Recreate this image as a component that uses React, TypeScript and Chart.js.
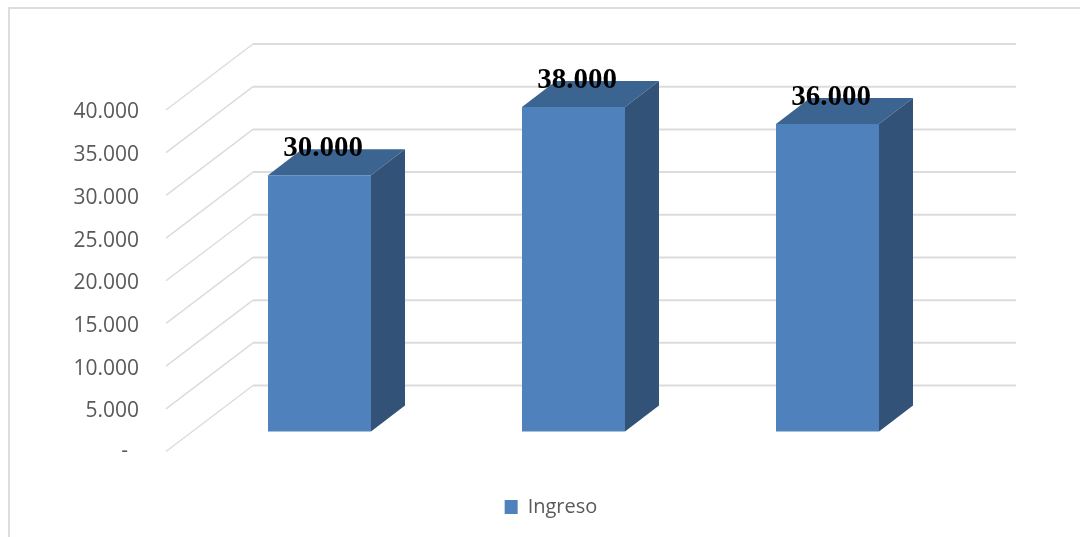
import React, { useEffect, useRef } from "react";
import { Chart, registerables } from "chart.js";

Chart.register(...registerables);

const categories = ["1", "2", "3"];
const seriesName = "Ingreso";
const ingreso = [30000, 38000, 36000];

const FRONT = "#4f81bd";
const TOP = "#3c6491";
const SIDE = "#325277";
const GRID = "#dcdcdc";
const TEXT = "#595959";

const formatNumber = (v: number) => String(v).replace(/\B(?=(\d{3})+$)/g, ".");

// Depth of the floor and walls, and of the bars, in canvas pixels.
const WALL_DX = 87;
const WALL_DY = -66;
const BAR_DX = 34;
const BAR_DY = -26;

const box3d = {
  id: "box3d",
  beforeDatasetsDraw(chart: any) {
    const { ctx, scales } = chart;
    ctx.save();
    // Outer frame: only the top and left edges are visible.
    ctx.strokeStyle = "#dddddd";
    ctx.lineWidth = 2;
    ctx.beginPath();
    ctx.moveTo(1080, 8);
    ctx.lineTo(9, 8);
    ctx.lineTo(9, 537);
    ctx.stroke();
    // Wall gridlines and their diagonals across the side wall.
    ctx.strokeStyle = GRID;
    scales.y.ticks.forEach((t: any) => {
      const py = scales.y.getPixelForValue(t.value);
      ctx.lineWidth = 1.5;
      ctx.beginPath();
      ctx.moveTo(166, py);
      ctx.lineTo(166 + WALL_DX, py + WALL_DY);
      ctx.stroke();
      ctx.lineWidth = 2;
      ctx.beginPath();
      ctx.moveTo(166 + WALL_DX, py + WALL_DY);
      ctx.lineTo(1016, py + WALL_DY);
      ctx.stroke();
    });
    // Top and side faces of each bar.
    chart.getDatasetMeta(0).data.forEach((bar: any) => {
      const { x, y, base, width } = bar.getProps(["x", "y", "base", "width"], true);
      const l = x - width / 2;
      const r = x + width / 2;
      ctx.fillStyle = TOP;
      ctx.beginPath();
      ctx.moveTo(l, y);
      ctx.lineTo(l + BAR_DX, y + BAR_DY);
      ctx.lineTo(r + BAR_DX, y + BAR_DY);
      ctx.lineTo(r, y);
      ctx.closePath();
      ctx.fill();
      ctx.fillStyle = SIDE;
      ctx.beginPath();
      ctx.moveTo(r, y);
      ctx.lineTo(r + BAR_DX, y + BAR_DY);
      ctx.lineTo(r + BAR_DX, base + BAR_DY);
      ctx.lineTo(r, base);
      ctx.closePath();
      ctx.fill();
    });
    ctx.restore();
  },
  afterDatasetsDraw(chart: any) {
    const { ctx } = chart;
    ctx.save();
    ctx.fillStyle = "#000000";
    ctx.font = 'bold 29px "Liberation Serif"';
    ctx.textAlign = "center";
    ctx.textBaseline = "middle";
    chart.getDatasetMeta(0).data.forEach((bar: any, i: number) => {
      const { x, y } = bar.getProps(["x", "y"], true);
      ctx.fillText(formatNumber(ingreso[i]), x + 3.5, y - 27);
    });
    ctx.restore();
  },
};

export default function App() {
  const ref = useRef<HTMLCanvasElement>(null);
  useEffect(() => {
    const chart = new Chart(ref.current!, {
      type: "bar",
      data: {
        labels: categories,
        datasets: [
          {
            label: seriesName,
            data: ingreso,
            yAxisID: "bars",
            backgroundColor: FRONT,
            borderWidth: 0,
            categoryPercentage: 1,
            barPercentage: 103 / 254,
            clip: false,
          } as any,
        ],
      },
      plugins: [box3d],
      options: {
        responsive: false,
        animation: false,
        layout: { padding: { top: 110, left: 60, right: 38, bottom: 10 } },
        plugins: {
          tooltip: { enabled: false },
          legend: {
            position: "bottom",
            labels: {
              boxWidth: 13,
              boxHeight: 14,
              padding: 21,
              color: TEXT,
              font: { family: '"Open Sans"', size: 20 },
            },
          },
        },
        scales: {
          x: {
            grid: { display: false },
            border: { display: false },
            ticks: { display: false },
            afterFit: (s: any) => {
              s.height = 24.5;
            },
          },
          y: {
            min: 0,
            max: 40000,
            grid: { display: false, drawTicks: false },
            border: { display: false },
            ticks: {
              stepSize: 5000,
              padding: 53.5,
              labelOffset: 2.5,
              color: TEXT,
              // The zero label is a raised dash: an empty second line lifts it.
              font: (c: any) => ({
                family: '"Open Sans"',
                size: 21,
                lineHeight: c.tick && c.tick.value === 0 ? 0.3 : 1.2,
              }),
              callback: (v: any) =>
                Number(v) === 0 ? ["-  ", ""] : formatNumber(Number(v)),
            },
            afterFit: (s: any) => {
              s.width = 132.5;
            },
          },
          // The bars stand on a floor 20px above the front edge of the axis;
          // this axis draws nothing and only reserves the room on the right.
          bars: {
            position: "right",
            min: -2346,
            max: 37654,
            grid: { display: false, drawTicks: false },
            border: { display: false },
            ticks: { display: false },
            afterFit: (s: any) => {
              s.width = 87.5;
            },
          },
        },
      },
    });
    return () => chart.destroy();
  }, []);
  return (
    <canvas
      ref={ref}
      width={1080}
      height={537}
      style={{ position: "absolute", left: 0, top: 0, display: "block" }}
    />
  );
}
